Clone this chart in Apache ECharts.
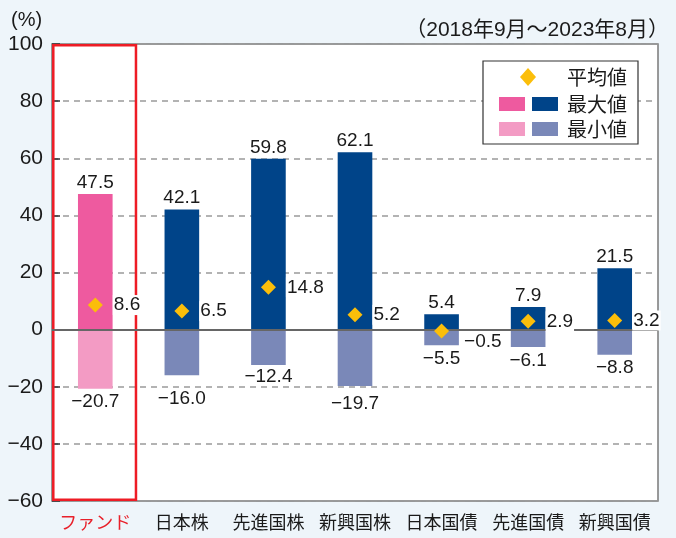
<!DOCTYPE html>
<html><head><meta charset="utf-8">
<script src="https://cdn.jsdelivr.net/npm/echarts@6/dist/echarts.min.js"></script>
<style>html,body{margin:0;padding:0;background:#EEF5FA;}#c{width:676px;height:538px;}</style>
</head><body><div id="c"></div>
<script>
var categories = ['ファンド','日本株','先進国株','新興国株','日本国債','先進国債','新興国債'];
var maxValues = [47.5, 42.1, 59.8, 62.1, 5.4, 7.9, 21.5];
var minValues = [-20.7, -16.0, -12.4, -19.7, -5.5, -6.1, -8.8];
var avgValues = [8.6, 6.5, 14.8, 5.2, -0.5, 2.9, 3.2];
var yTicks = [-60, -40, -20, 0, 20, 40, 60, 80, 100];

var NUM = "Liberation Sans, Noto Sans CJK JP, sans-serif";
var JP = "Noto Sans CJK JP, sans-serif";
var INK = '#1a1a1a';
function fmt(v){ return (v < 0 ? '\u2212' + Math.abs(v).toFixed(1) : v.toFixed(1)); }

var fundMax = '#EE5A9F', fundMin = '#F39BC4', navy = '#004489', peri = '#7A88B8', gold = '#FBBE0A';
var minLabelShift = [0, 10, -2, 4, 0, 0, 0];

function txt(t, x, y, size, fam, extra){
  var s = { text: t, x: x, y: y, fontSize: size, fontFamily: fam, fill: INK, textVerticalAlign: 'middle' };
  if (extra) for (var k in extra) s[k] = extra[k];
  return { type: 'text', z: 101, style: s };
}

var chart = echarts.init(document.getElementById('c'));
chart.setOption({
  backgroundColor: '#EEF5FA',
  animation: false,
  grid: { left: 52, right: 18, top: 44, bottom: 37, show: true, backgroundColor: '#fff', borderColor: '#7a7a7a', borderWidth: 1.5 },
  xAxis: [{
    type: 'category', data: categories,
    axisLine: { show: false, onZero: false }, axisTick: { show: false },
    axisLabel: { interval: 0, margin: 12, fontSize: 18, fontFamily: JP,
      color: function(v, i){ return i === 0 ? '#E8202A' : INK; } }
  }, {
    type: 'value', min: -0.5, max: 6.5, show: false
  }],
  yAxis: {
    type: 'value', min: -60, max: 100, interval: 20,
    axisLine: { show: false, onZero: false },
    axisTick: { show: true, inside: true, length: 8, lineStyle: { color: '#333', width: 1.5 } },
    axisLabel: { fontSize: 21, fontFamily: NUM, color: INK, margin: 9,
      formatter: function(v){ return v < 0 ? '\u2212' + Math.abs(v) : String(v); } },
    splitLine: { show: true, lineStyle: { color: '#9a9a9a', type: [6, 5], width: 1.5 } }
  },
  graphic: [
    txt('(%)', 11, 20, 20, NUM),
    txt('（2018年9月～2023年8月）', 669, 30, 21, NUM, { textAlign: 'right' }),
    { type: 'rect', z: 100, shape: { x: 483, y: 61, width: 155, height: 83 }, style: { fill: '#fff', stroke: '#333', lineWidth: 1.2 } },
    { type: 'polygon', z: 101, shape: { points: [[528, 68], [536, 77], [528, 86], [520, 77]] }, style: { fill: gold } },
    txt('平均値', 567, 77, 20, JP),
    { type: 'rect', z: 101, shape: { x: 499, y: 97, width: 26, height: 14 }, style: { fill: fundMax } },
    { type: 'rect', z: 101, shape: { x: 532, y: 97, width: 26, height: 14 }, style: { fill: navy } },
    txt('最大値', 567, 104, 20, JP),
    { type: 'rect', z: 101, shape: { x: 499, y: 122, width: 26, height: 14 }, style: { fill: fundMin } },
    { type: 'rect', z: 101, shape: { x: 532, y: 122, width: 26, height: 14 }, style: { fill: peri } },
    txt('最小値', 567, 129, 20, JP)
  ],
  series: [
    {
      name: 'box', type: 'scatter', xAxisIndex: 1, data: [], z: 3, silent: true,
      markArea: { silent: true, itemStyle: { color: 'rgba(0,0,0,0)', borderColor: '#EE1C25', borderWidth: 2.5 },
        data: [[{ coord: [-0.485, 99.6] }, { coord: [0.47, -59.6] }]] }
    },
    {
      name: '最大値', type: 'bar', barWidth: '40%', barGap: '-100%', z: 2,
      data: maxValues.map(function(v, i){ return { value: v, itemStyle: { color: i === 0 ? fundMax : navy } }; }),
      label: { show: true, position: 'top', distance: 2, fontSize: 19, fontFamily: NUM, color: INK, formatter: function(p){ return fmt(p.value); } },
      markLine: { silent: true, symbol: 'none', label: { show: false }, lineStyle: { color: '#666', width: 2, type: 'solid' }, data: [{ yAxis: 0 }] }
    },
    {
      name: '最小値', type: 'bar', barWidth: '40%', barGap: '-100%', z: 2,
      data: minValues.map(function(v, i){ return { value: v, itemStyle: { color: i === 0 ? fundMin : peri }, label: { offset: [0, minLabelShift[i]] } }; }),
      label: { show: true, position: 'bottom', distance: 4, fontSize: 19, fontFamily: NUM, color: INK, formatter: function(p){ return fmt(p.value); } }
    },
    {
      name: '平均値', type: 'scatter', symbol: 'diamond', symbolSize: 15, z: 5,
      itemStyle: { color: gold, opacity: 1 },
      data: avgValues.map(function(v, i){
        var d = { value: v };
        if (i === 4) d.label = { offset: [4, 11] };
        return d;
      }),
      label: { show: true, position: 'right', distance: 10, fontSize: 19, fontFamily: NUM, color: INK,
        backgroundColor: '#fff', padding: [1, 1, 0, 1], formatter: function(p){ return fmt(p.value); } }
    }
  ]
});
</script></body></html>
